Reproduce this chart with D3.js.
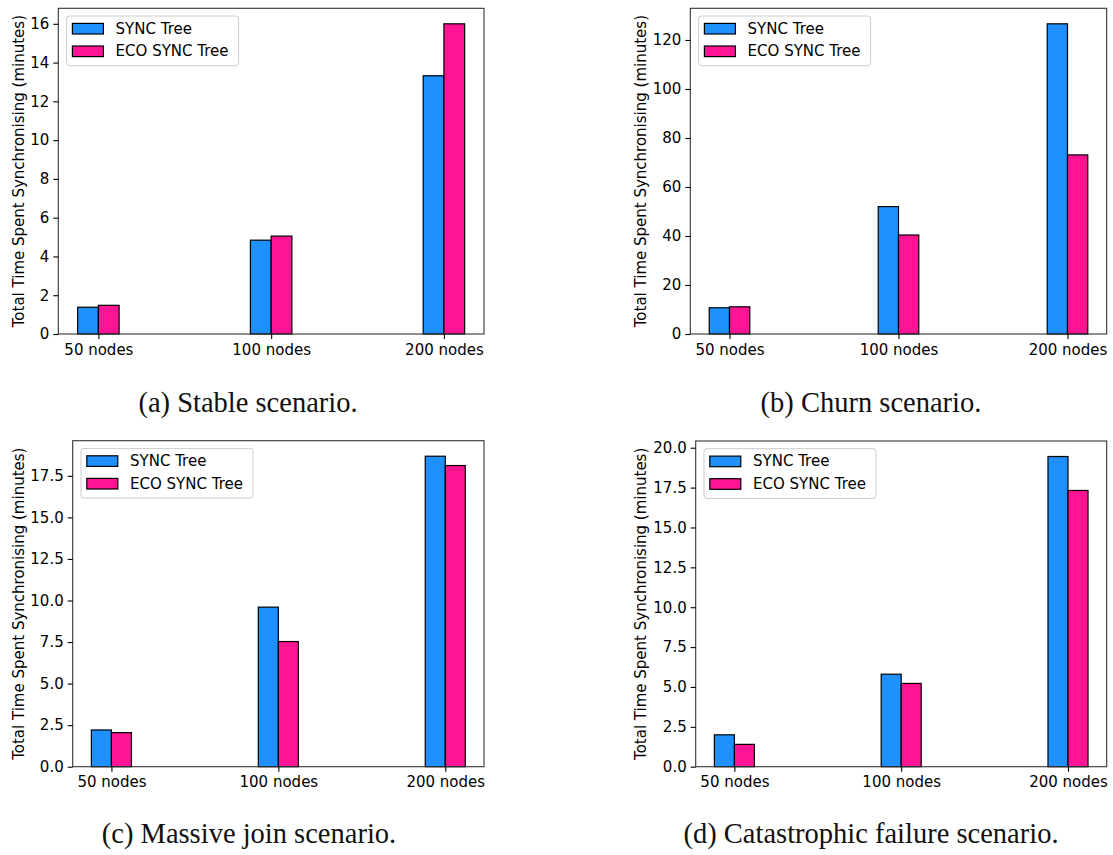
<!DOCTYPE html>
<html><head><meta charset="utf-8">
<script src="https://cdn.jsdelivr.net/npm/d3@7"></script>
<style>body{margin:0;background:#fff}svg{display:block}</style>
</head><body>
<svg id="chart" width="1113" height="855"></svg>
<script>
const categories = ["50 nodes", "100 nodes", "200 nodes"];
const seriesNames = ["SYNC Tree", "ECO SYNC Tree"];
const seriesColors = ["#1E90FF", "#FF1493"];

const stableSync = [1.38, 4.84, 13.32];
const stableEco  = [1.48, 5.05, 16.0];
const churnSync  = [10.7, 52.0, 126.6];
const churnEco   = [11.1, 40.4, 73.1];
const joinSync   = [2.21, 9.6, 18.68];
const joinEco    = [2.05, 7.53, 18.12];
const failSync   = [2.0, 5.8, 19.45];
const failEco    = [1.4, 5.22, 17.32];

const stableTicks = [0, 2, 4, 6, 8, 10, 12, 14, 16];
const churnTicks  = [0, 20, 40, 60, 80, 100, 120];
const joinTicks   = [0, 2.5, 5, 7.5, 10, 12.5, 15, 17.5];
const failTicks   = [0, 2.5, 5, 7.5, 10, 12.5, 15, 17.5, 20];

const yLabel = "Total Time Spent Synchronising (minutes)";
const captions = ["(a) Stable scenario.", "(b) Churn scenario.", "(c) Massive join scenario.", "(d) Catastrophic failure scenario."];

const panels = [
  {sync: stableSync, eco: stableEco, ticks: stableTicks, fmt: d3.format("d"), box: {l: 58.3, r: 484, t: 8.3, b: 334}, ylx: 18.5, cap: captions[0], capX: 248, capY: 412},
  {sync: churnSync, eco: churnEco, ticks: churnTicks, fmt: d3.format("d"), box: {l: 690.3, r: 1106.7, t: 8.3, b: 334}, ylx: 641, cap: captions[1], capX: 871, capY: 412},
  {sync: joinSync, eco: joinEco, ticks: joinTicks, fmt: d3.format(".1f"), box: {l: 72.7, r: 484, t: 440.7, b: 766.7}, ylx: 18.5, cap: captions[2], capX: 249, capY: 843},
  {sync: failSync, eco: failEco, ticks: failTicks, fmt: d3.format(".1f"), box: {l: 695.7, r: 1106.7, t: 441, b: 766.7}, ylx: 641, cap: captions[3], capX: 871, capY: 843}
];

const svg = d3.select("#chart");
const FONT = "DejaVu Sans, sans-serif";
const barW = 0.12;

panels.forEach(p => {
  const g = svg.append("g");
  const {l, r, t, b} = p.box;
  const n = categories.length;
  const xmin = -barW, xmax = (n - 1) + barW;
  const xpad = (xmax - xmin) * 0.05;
  const x = d3.scaleLinear().domain([xmin - xpad, xmax + xpad]).range([l, r]);
  const dmax = d3.max(p.sync.concat(p.eco));
  const y = d3.scaleLinear().domain([0, dmax * 1.05]).range([b, t]);

  const series = [p.sync, p.eco];
  series.forEach((vals, si) => {
    g.selectAll(null).data(vals).enter().append("rect")
      .attr("x", (d, i) => si === 0 ? x(i - barW) : x(i))
      .attr("width", x(barW) - x(0))
      .attr("y", d => y(d))
      .attr("height", d => y(0) - y(d))
      .attr("fill", seriesColors[si])
      .attr("stroke", "#000")
      .attr("stroke-width", 1.2);
  });

  // frame
  g.append("rect").attr("x", l).attr("y", t).attr("width", r - l).attr("height", b - t)
    .attr("fill", "none").attr("stroke", "#333").attr("stroke-width", 1.1);

  // x axis
  const xAxis = d3.axisBottom(x).tickValues(d3.range(n)).tickFormat(i => categories[i])
    .tickSize(5).tickPadding(5);
  const gx = g.append("g").attr("transform", `translate(0,${b})`).call(xAxis);
  gx.select(".domain").remove();
  gx.selectAll(".tick line").attr("stroke", "#000").attr("stroke-width", 1.1);
  gx.selectAll(".tick text").attr("font-family", FONT).attr("font-size", 15).attr("fill", "#000");

  const yAxis = d3.axisLeft(y).tickValues(p.ticks).tickFormat(p.fmt).tickSize(5).tickPadding(4);
  const gy = g.append("g").attr("transform", `translate(${l},0)`).call(yAxis);
  gy.select(".domain").remove();
  gy.selectAll(".tick line").attr("stroke", "#000").attr("stroke-width", 1.1);
  gy.selectAll(".tick text").attr("font-family", FONT).attr("font-size", 15).attr("fill", "#000");

  // y label
  g.append("text").attr("transform", `translate(${p.ylx},${(t + b) / 2}) rotate(-90)`)
    .attr("text-anchor", "middle").attr("dominant-baseline", "central")
    .attr("font-family", FONT).attr("font-size", 15).attr("fill", "#000").text(yLabel);

  // legend
  const lg = g.append("g").attr("transform", `translate(${l + 8.3},${t + 7.7})`);
  lg.append("rect").attr("width", 172).attr("height", 49.7).attr("rx", 3)
    .attr("fill", "#fff").attr("fill-opacity", 0.8).attr("stroke", "#ccc").attr("stroke-width", 1);
  seriesNames.forEach((name, si) => {
    const cy = 12.7 + si * 22.6;
    lg.append("rect").attr("x", 5.8).attr("y", cy - 5.3).attr("width", 31).attr("height", 10.6)
      .attr("fill", seriesColors[si]).attr("stroke", "#000").attr("stroke-width", 1.2);
    lg.append("text").attr("x", 49).attr("y", cy).attr("dominant-baseline", "central")
      .attr("font-family", FONT).attr("font-size", 15).attr("fill", "#000").text(name);
  });

  // caption
  svg.append("text").attr("x", p.capX).attr("y", p.capY).attr("text-anchor", "middle")
    .attr("font-family", "Liberation Serif, DejaVu Serif, serif").attr("font-size", 28.5)
    .attr("fill", "#111").text(p.cap);
});
</script>
</body></html>
